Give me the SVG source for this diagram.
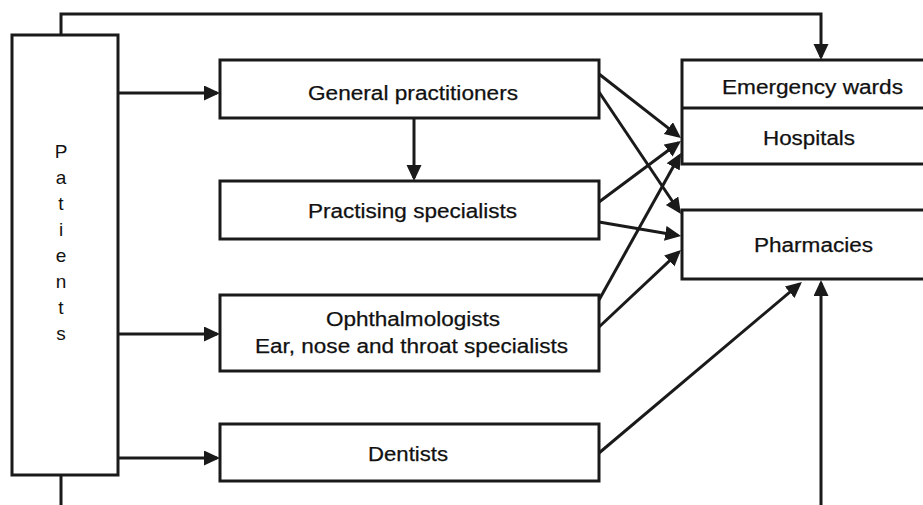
<svg xmlns="http://www.w3.org/2000/svg" width="923" height="505" viewBox="0 0 923 505">
  <style>
    .box { fill: #fff; stroke: #1a1a1a; stroke-width: 3; }
    .lbl { font-family: "Liberation Sans", Arial, Helvetica, sans-serif; font-size: 20px; fill: #111; stroke: #111; stroke-width: 0.25; text-anchor: middle; }
    .vert { font-family: "Liberation Sans", Arial, Helvetica, sans-serif; font-size: 19px; fill: #111; text-anchor: middle; }
    .link { fill: none; stroke: #1a1a1a; stroke-width: 3; marker-end: url(#head); }
    .plain { fill: none; stroke: #1a1a1a; stroke-width: 3; }
  </style>
  <defs>
    <marker id="head" markerUnits="userSpaceOnUse" markerWidth="18" markerHeight="16" refX="13" refY="7.5" orient="auto">
      <path d="M0,0 L16,7.5 L0,15 z" fill="#1a1a1a"/>
    </marker>
  </defs>
  <rect width="923" height="505" fill="#fff"/>

  <!-- connectors -->
  <g id="connectors">
    <!-- patients straight to emergency wards -->
    <path class="link" d="M61,35 V14 H821 V57"/>
    <!-- patients straight to pharmacies (runs below the frame) -->
    <path class="link" d="M61,475 V512 H821 V283"/>
    <!-- patients to first-line providers -->
    <path class="link" d="M118,93 H217"/>
    <path class="link" d="M118,334 H217"/>
    <path class="link" d="M118,458 H217"/>
    <!-- referral GP to specialists -->
    <path class="link" d="M414,118 V178"/>
    <!-- providers to hospitals -->
    <path class="link" d="M599,74 L678.6,136.1"/>
    <path class="link" d="M599,202 L678.5,142.8"/>
    <path class="link" d="M599,300 L679.5,155.6"/>
    <!-- providers to pharmacies -->
    <path class="link" d="M599,92 L679.3,211.5"/>
    <path class="link" d="M599,222 L678.1,235.5"/>
    <path class="link" d="M599,327 L678.8,252.1"/>
    <path class="link" d="M599,453 L799.6,283.9"/>
  </g>

  <!-- nodes -->
  <g id="patients">
    <rect class="box" x="12" y="35" width="106" height="440"/>
    <text class="vert" x="61" y="158">P</text>
    <text class="vert" x="61" y="184">a</text>
    <text class="vert" x="61" y="210">t</text>
    <text class="vert" x="61" y="236">i</text>
    <text class="vert" x="61" y="262">e</text>
    <text class="vert" x="61" y="288">n</text>
    <text class="vert" x="61" y="314">t</text>
    <text class="vert" x="61" y="340">s</text>
  </g>

  <g id="general-practitioners">
    <rect class="box" x="220" y="60" width="379" height="58"/>
    <text class="lbl" x="413" y="100" textLength="210" lengthAdjust="spacingAndGlyphs">General practitioners</text>
  </g>

  <g id="practising-specialists">
    <rect class="box" x="220" y="181" width="379" height="58"/>
    <text class="lbl" x="412.5" y="218" textLength="209" lengthAdjust="spacingAndGlyphs">Practising specialists</text>
  </g>

  <g id="ophthalmologists-ent">
    <rect class="box" x="220" y="295" width="379" height="76"/>
    <text class="lbl" x="413" y="326" textLength="174" lengthAdjust="spacingAndGlyphs">Ophthalmologists</text>
    <text class="lbl" x="411.5" y="353" textLength="313" lengthAdjust="spacingAndGlyphs">Ear, nose and throat specialists</text>
  </g>

  <g id="dentists">
    <rect class="box" x="220" y="424" width="379" height="57"/>
    <text class="lbl" x="408" y="461" textLength="80" lengthAdjust="spacingAndGlyphs">Dentists</text>
  </g>

  <g id="emergency-hospitals">
    <rect class="box" x="682" y="60" width="250" height="104"/>
    <line class="plain" x1="682" y1="108" x2="932" y2="108"/>
    <text class="lbl" x="812.5" y="94" textLength="181" lengthAdjust="spacingAndGlyphs">Emergency wards</text>
    <text class="lbl" x="809" y="145" textLength="92" lengthAdjust="spacingAndGlyphs">Hospitals</text>
  </g>

  <g id="pharmacies">
    <rect class="box" x="682" y="210" width="250" height="69"/>
    <text class="lbl" x="813.5" y="252" textLength="119" lengthAdjust="spacingAndGlyphs">Pharmacies</text>
  </g>
</svg>
